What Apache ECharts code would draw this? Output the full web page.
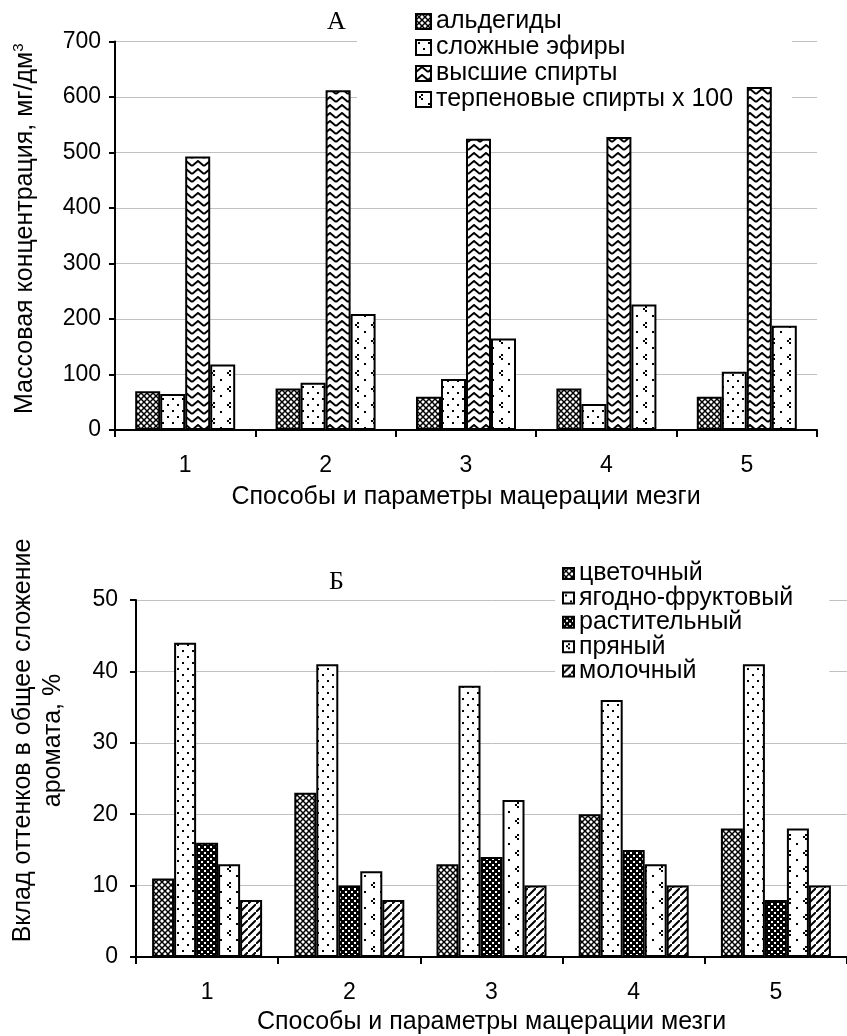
<!DOCTYPE html>
<html>
<head>
<meta charset="utf-8">
<script src="https://cdn.jsdelivr.net/npm/echarts@6/dist/echarts.min.js"></script>
<style>
  html, body { margin: 0; padding: 0; background: #fff; }
  #chart { width: 847px; height: 1036px; }
</style>
</head>
<body>
<div id="chart"></div>
<script>
// chart A: aroma compounds, mg/dm3
const categories = ['1', '2', '3', '4', '5']
const aldehydes = [70, 75, 60, 75, 60]
const esters = [65, 85, 92, 47, 105]
const higherAlcohols = [493, 612, 525, 528, 618]
const terpeneAlcohols = [118, 209, 165, 226, 188] // x 100

// chart Б: aroma shades, %
const floral = [11, 23, 13, 20, 18]
const berryFruit = [44, 41, 38, 36, 41]
const herbal = [16, 10, 14, 15, 8]
const spicy = [13, 12, 22, 13, 18]
const dairy = [8, 8, 10, 10, 10]

const namesA = ['альдегиды', 'сложные эфиры', 'высшие спирты', 'терпеновые спирты x 100']
const namesB = ['цветочный', 'ягодно-фруктовый', 'растительный', 'пряный', 'молочный']

const FONT = 'Liberation Sans, Arial, sans-serif'

// black & white fill patterns, drawn on small canvases
function tile(w, h, draw) {
  const c = document.createElement('canvas')
  c.width = w
  c.height = h
  const ctx = c.getContext('2d')
  ctx.fillStyle = '#fff'
  ctx.fillRect(0, 0, w, h)
  ctx.fillStyle = '#000'
  ctx.strokeStyle = '#000'
  draw(ctx)
  return { image: c, repeat: 'repeat' }
}

const crossPattern = tile(6, 6, ctx => {
  ctx.lineWidth = 1.5
  ctx.beginPath()
  ctx.moveTo(0, 0)
  ctx.lineTo(6, 6)
  ctx.moveTo(6, 0)
  ctx.lineTo(0, 6)
  ctx.stroke()
})
const dotPattern = tile(10, 12, ctx => {
  ctx.fillRect(2, 2, 2, 2)
  ctx.fillRect(7, 8, 2, 2)
})
const zigzagPattern = tile(12, 8, ctx => {
  ctx.lineWidth = 2
  ctx.beginPath()
  ctx.moveTo(0, 6)
  ctx.lineTo(6, 1)
  ctx.lineTo(12, 6)
  ctx.stroke()
})
const arrowPattern = tile(16, 16, ctx => {
  ctx.fillRect(5, 2, 2, 2)
  ctx.fillRect(3, 4, 2, 2)
  ctx.fillRect(5, 6, 2, 2)
  ctx.fillRect(12, 11, 2, 2)
})
const darkPattern = tile(6, 6, ctx => {
  ctx.fillRect(0, 0, 6, 6)
  ctx.fillStyle = '#fff'
  ctx.fillRect(0, 0, 2, 2)
  ctx.fillRect(3, 3, 2, 2)
})
const hatchPattern = tile(8, 8, ctx => {
  ctx.lineWidth = 2
  ctx.beginPath()
  ctx.moveTo(-1, 9)
  ctx.lineTo(9, -1)
  ctx.stroke()
})

function bar(name, data, pattern, idx, width) {
  return {
    name: name,
    type: 'bar',
    xAxisIndex: idx,
    yAxisIndex: idx,
    barWidth: width,
    barGap: 0,
    itemStyle: { color: pattern, borderColor: '#000', borderWidth: 2 },
    emphasis: { disabled: true },
    data: data
  }
}

const axisLine = { show: true, lineStyle: { color: '#000', width: 2 } }
const splitLine = { show: true, lineStyle: { color: '#c0c0c0', width: 1 } }
const legendText = { fontFamily: FONT, fontSize: 25, color: '#000' }

const chart = echarts.init(document.getElementById('chart'))
chart.setOption({
  animation: false,
  textStyle: { fontFamily: FONT, color: '#000' },
  title: [
    { text: 'А', left: 322, top: 4, textStyle: { fontFamily: 'Liberation Serif', fontSize: 26, fontWeight: 'normal', color: '#000' } },
    { text: 'Б', left: 324, top: 564, textStyle: { fontFamily: 'Liberation Serif', fontSize: 26, fontWeight: 'normal', color: '#000' } }
  ],
  legend: [
    {
      data: namesA,
      orient: 'vertical',
      left: 357,
      top: 0,
      z: 1,
      padding: [9, 59, 10, 58],
      backgroundColor: '#fff',
      itemWidth: 15,
      itemHeight: 15,
      itemGap: 1,
      icon: 'rect',
      selectedMode: false,
      textStyle: legendText
    },
    {
      data: namesB,
      orient: 'vertical',
      left: 555,
      top: 560,
      z: 1,
      padding: [1, 36, 6, 7],
      backgroundColor: '#fff',
      itemWidth: 11,
      itemHeight: 11,
      itemGap: -0.6,
      icon: 'rect',
      selectedMode: false,
      textStyle: legendText
    }
  ],
  grid: [
    { left: 115, top: 41.5, width: 702, height: 388.5 },
    { left: 130, top: 600, width: 725, height: 360 }
  ],
  xAxis: [0, 1].map(i => ({
    type: 'category',
    gridIndex: i,
    data: categories,
    name: 'Способы и параметры мацерации мезги',
    nameLocation: 'middle',
    nameGap: i === 0 ? 55 : 53,
    nameTextStyle: { fontFamily: FONT, fontSize: 25, color: '#000' },
    axisLine: axisLine,
    axisTick: { show: true, length: 7, alignWithLabel: false, lineStyle: { color: '#000', width: 2 } },
    axisLabel: { margin: 24, fontFamily: FONT, fontSize: 23, color: '#000' },
    splitLine: { show: false }
  })),
  yAxis: [
    {
      type: 'value',
      gridIndex: 0,
      min: 0,
      max: 700,
      interval: 100,
      name: 'Массовая концентрация, мг/дм{sup|3}',
      nameLocation: 'middle',
      nameGap: 76,
      nameTextStyle: {
        fontFamily: FONT,
        fontSize: 25,
        lineHeight: 28,
        color: '#000',
        padding: [0, 0, 0, 14],
        rich: { sup: { fontFamily: FONT, fontSize: 15, verticalAlign: 'top', lineHeight: 28, color: '#000' } }
      },
      axisLine: axisLine,
      axisTick: { show: true, length: 6, lineStyle: { color: '#000', width: 2 } },
      axisLabel: { margin: 14, fontFamily: FONT, fontSize: 23, color: '#000' },
      splitLine: splitLine
    },
    {
      type: 'value',
      gridIndex: 1,
      min: 0,
      max: 50,
      interval: 10,
      name: 'Вклад оттенков в общее сложение\nаромата, %',
      nameLocation: 'middle',
      nameGap: 68,
      nameTextStyle: { fontFamily: FONT, fontSize: 25, lineHeight: 30, color: '#000', padding: [0, 0, 0, 76] },
      axisLine: axisLine,
      axisTick: { show: true, length: 6, lineStyle: { color: '#000', width: 2 } },
      axisLabel: { margin: 18, fontFamily: FONT, fontSize: 23, color: '#000' },
      splitLine: splitLine
    }
  ],
  series: [
    bar(namesA[0], aldehydes, crossPattern, 0, 25),
    bar(namesA[1], esters, dotPattern, 0, 25),
    bar(namesA[2], higherAlcohols, zigzagPattern, 0, 25),
    bar(namesA[3], terpeneAlcohols, arrowPattern, 0, 25),
    bar(namesB[0], floral, crossPattern, 1, 22),
    bar(namesB[1], berryFruit, dotPattern, 1, 22),
    bar(namesB[2], herbal, darkPattern, 1, 22),
    bar(namesB[3], spicy, arrowPattern, 1, 22),
    bar(namesB[4], dairy, hatchPattern, 1, 22)
  ]
})
</script>
</body>
</html>
